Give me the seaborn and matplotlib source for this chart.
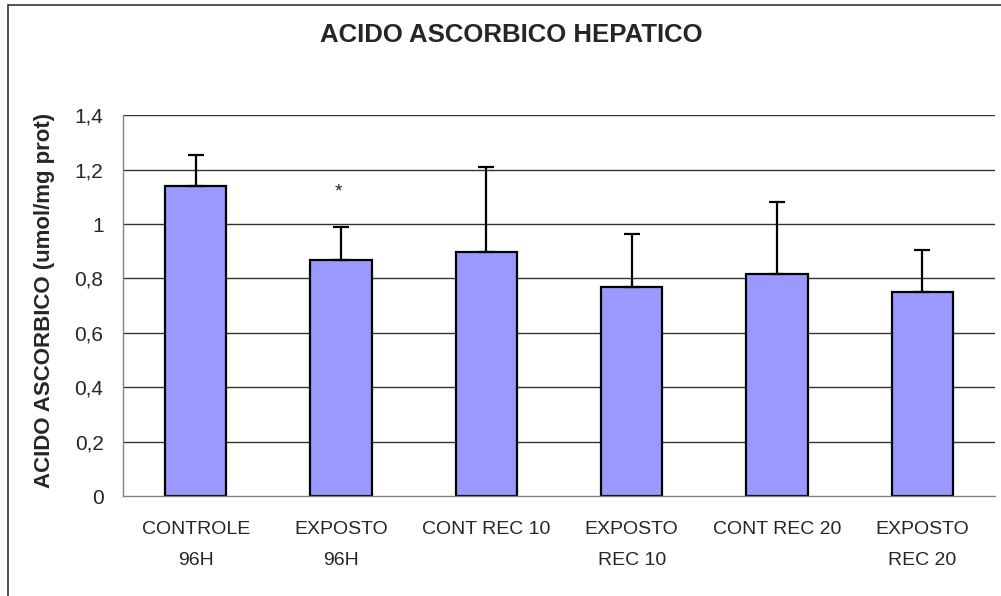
import matplotlib
matplotlib.use('Agg')
import matplotlib.pyplot as plt
import seaborn as sns
from matplotlib.patches import Rectangle

categories = ['CONTROLE\n96H', 'EXPOSTO\n96H', 'CONT REC 10', 'EXPOSTO\nREC 10',
              'CONT REC 20', 'EXPOSTO\nREC 20']
means = [1.141, 0.869, 0.898, 0.768, 0.816, 0.750]
errors = [0.112, 0.119, 0.311, 0.197, 0.266, 0.156]
yticks = [0, 0.2, 0.4, 0.6, 0.8, 1.0, 1.2, 1.4]
ytick_labels = ['0', '0,2', '0,4', '0,6', '0,8', '1', '1,2', '1,4']

sns.set_style('white')
plt.rcParams['font.family'] = ['Liberation Sans', 'DejaVu Sans']

fig = plt.figure(figsize=(10.01, 5.96), dpi=100)
ax = fig.add_axes([123 / 1001, 1 - 496 / 596, (995 - 123) / 1001, (496 - 115.3) / 596])

ax.set_axisbelow(True)
for t in yticks[1:]:
    ax.axhline(t, color='#333333', lw=1.0, zorder=0)

sns.barplot(x=list(range(len(categories))), y=means, color='#9999FF', saturation=1,
            edgecolor='black', linewidth=1.6, width=0.42, ax=ax, zorder=2)
ax.errorbar(list(range(len(categories))), means, yerr=[[0] * 6, errors], fmt='none',
            ecolor='black', elinewidth=1.6, capsize=5.5, capthick=1.6, zorder=3)

ax.text(0.985, 1.10, '*', ha='center', va='baseline', fontsize=14)

ax.set_xlim(-0.5, 5.5)
ax.set_ylim(0, 1.4)
ax.set_yticks(yticks)
ax.set_yticklabels(ytick_labels, fontsize=15)
ax.set_xticks([i - 0.5 for i in range(7)])
ax.set_xticklabels([])
ax.set_xticks(list(range(6)), minor=True)
ax.set_xticklabels(categories, minor=True, fontsize=14, linespacing=2.08)
ax.tick_params(axis='x', which='minor', length=0, pad=18)
ax.tick_params(axis='x', which='major', length=5, color='#808080', direction='out')
ax.tick_params(axis='y', length=9, color='#808080', direction='out', pad=5)
for lbl in ax.get_xticklabels(minor=True):
    lbl.set_verticalalignment('top')

for s in ['top', 'right']:
    ax.spines[s].set_visible(False)
for s in ['left', 'bottom']:
    ax.spines[s].set_color('#808080')
    ax.spines[s].set_linewidth(1.0)

ax.set_ylabel('ACIDO ASCORBICO (umol/mg prot)', fontsize=16, fontweight='bold')
ax.yaxis.set_label_coords(-68 / 872, 0.513)
fig.text(511 / 1001, 1 - 35 / 596, 'ACIDO ASCORBICO HEPATICO', fontsize=18.5,
         fontweight='bold', ha='center', va='center')

fig.patches.append(Rectangle((8 / 1001, -0.1), 1.2, 1 - 5 / 596 + 0.1, transform=fig.transFigure,
                             fill=False, edgecolor='#333333', lw=1.2))

fig.savefig('out.png', dpi=100)
